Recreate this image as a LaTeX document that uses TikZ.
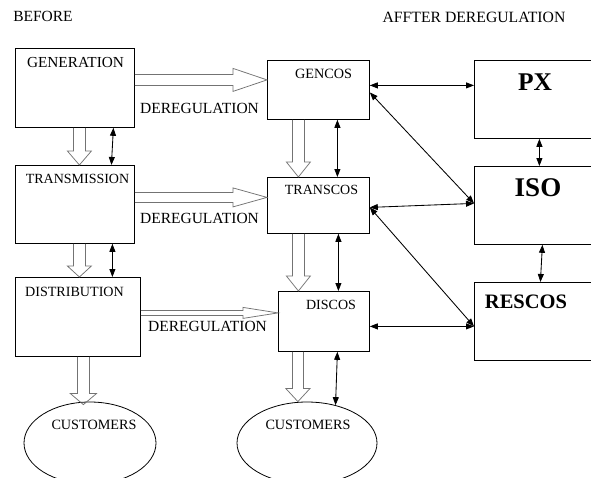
\documentclass[tikz,border=0pt]{standalone}
\usepackage{fontspec}
\setmainfont{Liberation Serif}
\usetikzlibrary{arrows.meta,calc,shapes.geometric}

% open outline of a wide arrow pointing right / down
% #1 start, #2 tip, #3 shaft half width, #4 head half width, #5 head length
\newcommand\hollowR[5]{\draw[hollow] ($(#1)+(0,-#3)$) -- ($(#2)+(-#5,-#3)$) -- ($(#2)+(-#5,-#4)$) -- (#2) -- ($(#2)+(-#5,#4)$) -- ($(#2)+(-#5,#3)$) -- ($(#1)+(0,#3)$);}
\newcommand\hollowD[5]{\draw[hollow] ($(#1)+(-#3,0)$) -- ($(#2)+(-#3,-#5)$) -- ($(#2)+(-#4,-#5)$) -- (#2) -- ($(#2)+(#4,-#5)$) -- ($(#2)+(#3,-#5)$) -- ($(#1)+(#3,0)$);}

\newcommand\fs[1]{\fontsize{#1}{#1}\selectfont}

\begin{document}
\begin{tikzpicture}[x=1pt,y=-1pt,
  box/.style={draw,line width=0.8pt,inner sep=0pt,anchor=north west},
  oval/.style={draw,ellipse,line width=0.8pt,inner sep=0pt},
  txt/.style={inner sep=0pt},
  hollow/.style={draw=black!55,line width=0.75pt,line join=miter},
  dbl/.style={{Triangle[length=8pt,width=6pt]}-{Triangle[length=8pt,width=6pt]},line width=0.85pt}]
\useasboundingbox (0,0) rectangle (591,477);
\clip (0,0) rectangle (591,477);

% headings
\node[txt] (before) at (43,16) {\fs{15.5}BEFORE};
\node[txt] (after) at (474,17) {\fs{15.7}AFFTER DEREGULATION};

% boxes before deregulation
\node[box,minimum width=119pt,minimum height=79pt] (gen) at (15,48) {};
\node[box,minimum width=119pt,minimum height=78pt] (trans) at (15,165) {};
\node[box,minimum width=125pt,minimum height=79pt] (dist) at (15,277) {};
\node[oval,minimum width=132pt,minimum height=82pt] (cust1) at (90,443) {};

% boxes after deregulation
\node[box,minimum width=102pt,minimum height=59pt] (gencos) at (267,60) {};
\node[box,minimum width=102pt,minimum height=56pt] (transcos) at (267,177) {};
\node[box,minimum width=91pt,minimum height=60pt] (discos) at (278,291) {};
\node[oval,minimum width=140pt,minimum height=82pt] (cust2) at (307,443) {};

\node[box,minimum width=140pt,minimum height=78pt] (px) at (474,60) {};
\node[box,minimum width=140pt,minimum height=78pt] (iso) at (474,166) {};
\node[box,minimum width=140pt,minimum height=78pt] (rescos) at (474,282) {};

% box texts
\node[txt] (genT) at (75.5,63) {\fs{15.3}GENERATION};
\node[txt] (transT) at (77.5,179) {\fs{14}TRANSMISSION};
\node[txt] (distT) at (74.5,292) {\fs{14.1}DISTRIBUTION};
\node[txt] (cust1T) at (94,425) {\fs{14.2}CUSTOMERS};
\node[txt] (gencosT) at (323.5,74) {\fs{14.2}GENCOS};
\node[txt] (transcosT) at (321.5,190) {\fs{14}TRANSCOS};
\node[txt] (discosT) at (331,305) {\fs{14}DISCOS};
\node[txt] (cust2T) at (308,425) {\fs{14.2}CUSTOMERS};
\node[txt] (pxT) at (535,82) {\fs{25.5}\bfseries PX};
\node[txt] (isoT) at (538,188) {\fs{27}\bfseries ISO};
\node[txt] (rescosT) at (526,302) {\fs{20.5}\bfseries RESCOS};

\node[txt] (dereg1) at (199.5,108) {\fs{15.5}DEREGULATION};
\node[txt] (dereg2) at (199.5,218) {\fs{15.5}DEREGULATION};
\node[txt] (dereg3) at (207.5,326) {\fs{15.5}DEREGULATION};

% wide arrows: deregulation
\coordinate (h1) at ([yshift=8pt]gen.east);
\coordinate (h1e) at (gencos.west |- h1);
\hollowR{h1}{h1e}{5.5}{11.5}{34}
\coordinate (h2) at ([yshift=7pt]trans.east);
\coordinate (h2e) at (transcos.west |- h2);
\hollowR{h2}{h2e}{5}{9.5}{34}
\coordinate (h3) at ([yshift=4pt]dist.east);
\coordinate (h3e) at (discos.west |- h3);
\hollowR{h3}{h3e}{2.5}{5.5}{35}

% wide arrows: flow down the chain
\coordinate (v1) at ([xshift=4.5pt]gen.south);
\coordinate (v1e) at (trans.north -| v1);
\hollowD{v1}{v1e}{6}{12}{14}
\coordinate (v2) at ([xshift=4.5pt]trans.south);
\coordinate (v2e) at (dist.north -| v2);
\hollowD{v2}{v2e}{6}{12}{11}
\coordinate (v3) at ([xshift=5.5pt]dist.south);
\coordinate (v3e) at ($(cust1.north -| v3)+(0,3)$);
\hollowD{v3}{v3e}{6}{13}{11}
\coordinate (v4) at ([xshift=-20pt]gencos.south);
\coordinate (v4e) at (transcos.north -| v4);
\hollowD{v4}{v4e}{6}{12}{15}
\coordinate (v5) at (transcos.south -| v4);
\coordinate (v5e) at (discos.north -| v4);
\hollowD{v5}{v5e}{6}{12}{15}
\coordinate (v6) at ($(discos.south -| v4)+(-0.5,0)$);
\coordinate (v6e) at (cust2.north -| v6);
\hollowD{v6}{v6e}{5.5}{12}{13}

% two-way links
\draw[dbl] ([xshift=38.5pt]gen.south) -- ([xshift=36.5pt]trans.north);
\draw[dbl] ([xshift=37.5pt]trans.south) -- ([xshift=34.5pt]dist.north);
\draw[dbl] ([xshift=19pt]gencos.south) -- ([xshift=19pt]transcos.north);
\draw[dbl] ([xshift=20pt]transcos.south) -- ([xshift=14.5pt]discos.north);
\draw[dbl] ([xshift=13.5pt]discos.south) -- (cust2.53);

\draw[dbl] ([yshift=4.5pt]gencos.east) -- ([yshift=14pt]px.west);
\draw[dbl] ([xshift=-5pt]px.south) -- ([xshift=-5pt]iso.north);
\draw[dbl] ([xshift=-2pt]iso.south) -- ([xshift=-4pt]rescos.north);
\draw[dbl] ([yshift=-2.5pt]gencos.east) -- ([yshift=2pt]iso.west);
\draw[dbl] ([yshift=-2pt]transcos.east) -- ([yshift=2pt]iso.west);
\draw[dbl] ([yshift=-2pt]transcos.east) -- ([yshift=-5pt]rescos.west);
\draw[dbl] ([yshift=-5pt]discos.east) -- ([yshift=-5pt]rescos.west);
\end{tikzpicture}
\end{document}
